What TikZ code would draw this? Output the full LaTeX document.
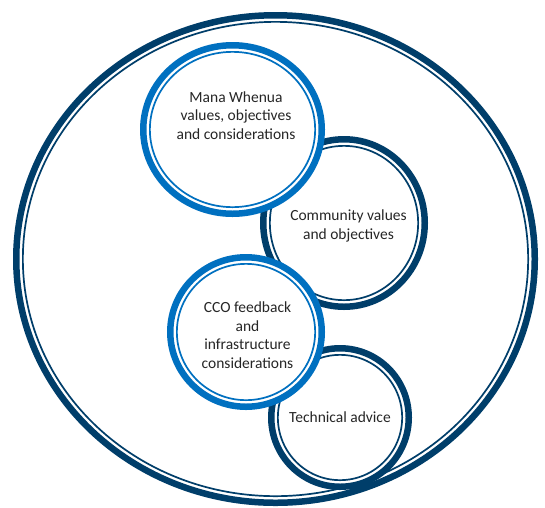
\documentclass[tikz,border=0pt]{standalone}
\usepackage{fontspec}
\setmainfont{Carlito}
\usetikzlibrary{shapes.geometric}
\definecolor{navy}{RGB}{0,62,106}
\definecolor{wblue}{RGB}{0,112,192}
\tikzset{
  ring/.style={ellipse, draw=#1, line width=6.5pt, fill=white, inner sep=0pt},
  thinring/.style={draw=#1, line width=1.7pt},
  ringtext/.style={align=center, text=black!85, font=\fontsize{15.5}{18.6}\selectfont, inner sep=0pt}
}
\begin{document}
\begin{tikzpicture}[x=1pt, y=-1pt]
  \useasboundingbox (0,0) rectangle (545,507);

  % outer frame
  \node[ring=navy, minimum width=518.5pt, minimum height=487.5pt] (frame) at (275.5,259) {};
  \draw[thinring=navy] (frame.center) ellipse [x radius=252.65pt, y radius=237.15pt];

  % dark rings
  \node[ring=navy, minimum width=161.5pt, minimum height=167.5pt] (community) at (344,223) {};
  \draw[thinring=navy] (community.center) ellipse [x radius=74.15pt, y radius=77.15pt];
  \node[ring=navy, minimum width=137.5pt, minimum height=138.5pt] (technical) at (340,417.5) {};
  \draw[thinring=navy] (technical.center) ellipse [x radius=62.15pt, y radius=62.65pt];

  % light rings
  \node[ring=wblue, minimum width=178.5pt, minimum height=168.5pt] (mana) at (232.5,129.5) {};
  \draw[thinring=wblue] (mana.center) ellipse [x radius=82.65pt, y radius=77.65pt];
  \node[ring=wblue, minimum width=151.5pt, minimum height=149.5pt] (cco) at (246,332) {};
  \draw[thinring=wblue] (cco.center) ellipse [x radius=69.15pt, y radius=68.15pt];

  % texts
  \node[ringtext] (manatext) at ([xshift=3.5pt, yshift=14pt]mana.center) {Mana Whenua\\values, objectives\\and considerations};
  \node[ringtext] (communitytext) at ([xshift=4.5pt, yshift=-3pt]community.center) {Community values\\and objectives};
  \node[ringtext] (ccotext) at ([xshift=1.5pt, yshift=-3pt]cco.center) {CCO feedback\\and\\infrastructure\\considerations};
  \node[ringtext] (technicaltext) at (technical.center) {Technical advice};
\end{tikzpicture}
\end{document}
